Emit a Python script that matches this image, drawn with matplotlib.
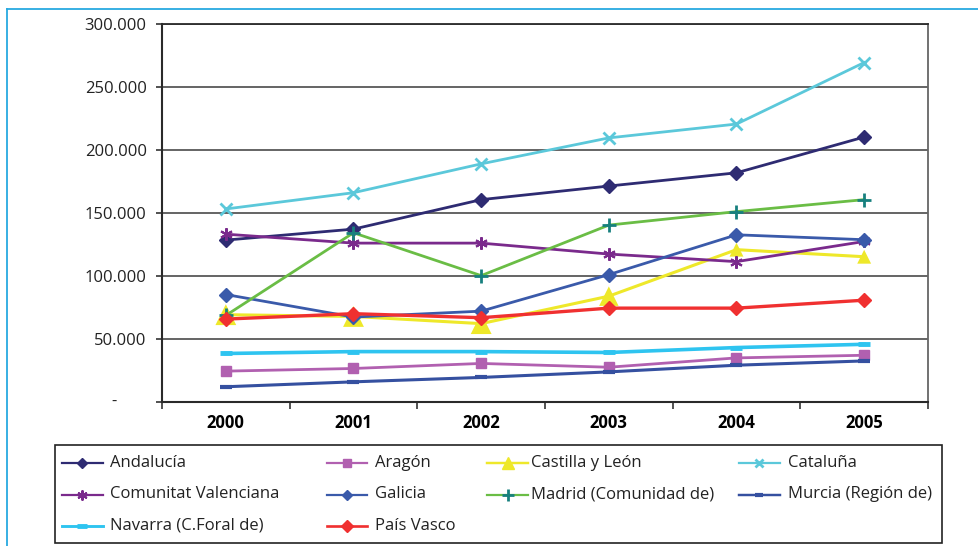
import matplotlib
matplotlib.use("Agg")
import matplotlib.pyplot as plt
from matplotlib.lines import Line2D
from matplotlib.patches import Rectangle
from matplotlib.ticker import FixedLocator, FuncFormatter

plt.rcParams['font.family'] = ['Open Sans', 'DejaVu Sans']

years = ['2000', '2001', '2002', '2003', '2004', '2005']

andalucia = [128500, 137200, 160600, 171400, 181900, 210300]
aragon = [24500, 26600, 30600, 27600, 35000, 37100]
castilla_leon = [69300, 67900, 62200, 84000, 120900, 115300]
cataluna = [153200, 166100, 189000, 209600, 220600, 269400]
valenciana = [133200, 126100, 126100, 117400, 111400, 127400]
galicia = [85300, 67400, 72100, 101100, 132700, 128800]
madrid = [68700, 134300, 100300, 140400, 151100, 160600]
murcia = [12100, 16000, 19500, 23900, 29200, 32600]
navarra = [38500, 40000, 40000, 39300, 43200, 45800]
pais_vasco = [65800, 70100, 66900, 74500, 74500, 80800]

names = ['Andalucía', 'Aragón', 'Castilla y León', 'Cataluña',
         'Comunitat Valenciana', 'Galicia', 'Madrid (Comunidad de)',
         'Murcia (Región de)', 'Navarra (C.Foral de)', 'País Vasco']
series = [andalucia, aragon, castilla_leon, cataluna, valenciana, galicia,
          madrid, murcia, navarra, pais_vasco]

# style: (line color, marker, marker face, marker edge, marker size, mew, lw)
styles = [
    ('#2E2B72', 'D', '#2E2B72', '#2E2B72', 7, 1, 2.0),
    ('#B160B0', 's', '#B160B0', '#B160B0', 7.5, 1, 2.0),
    ('#EEE82A', '^', '#EEE82A', '#EEE82A', 11, 1, 2.2),
    ('#5BC8DA', 'x', '#5BC8DA', '#5BC8DA', 8, 2, 2.0),
    ('#7A2A8C', (6, 2, 0), '#7A2A8C', '#7A2A8C', 9, 1.5, 2.0),
    ('#3A5AAA', 'D', '#3A5AAA', '#3A5AAA', 7, 1, 2.0),
    ('#6ABD45', '+', '#17807E', '#17807E', 10, 2, 2.0),
    ('#3550A0', '_', '#3550A0', '#3550A0', 8, 3, 2.2),
    ('#2EC4F0', '_', '#2EC4F0', '#2EC4F0', 9, 3.5, 2.6),
    ('#F03030', 'D', '#F03030', '#F03030', 7.5, 1, 2.4),
]

W, H = 979, 546
fig = plt.figure(figsize=(W / 100, H / 100), dpi=100)

def fx(px):
    return px / W

def fy(py):
    return 1 - py / H

ax = fig.add_axes([fx(162), fy(402), fx(928) - fx(162), fy(24) - fy(402)])
x = list(range(len(years)))

for i, (name, vals, st) in enumerate(zip(names, series, styles)):
    col, mk, mfc, mec, ms, mew, lw = st
    z = 3 + i * 0.1
    if name == 'Castilla y León':
        ax.plot(x, vals, color=col, lw=lw, zorder=z, solid_joinstyle='round')
        sizes = [15, 15, 15, 14, 10, 10]
        ax.scatter(x, vals, s=[s ** 2 for s in sizes], marker='^', color=col,
                   zorder=z + 0.01, linewidths=0)
    else:
        ax.plot(x, vals, color=col, lw=lw, marker=mk, mfc=mfc, mec=mec,
                ms=ms, mew=mew, zorder=z, solid_joinstyle='round')

ax.set_xlim(-0.5, 5.5)
ax.set_ylim(0, 300000)
yt = list(range(0, 300001, 50000))
ax.yaxis.set_major_locator(FixedLocator(yt))

def yfmt(v, pos):
    if v == 0:
        return ''
    return f"{int(v) // 1000}.{int(v) % 1000:03d}"

ax.yaxis.set_major_formatter(FuncFormatter(yfmt))
ax.grid(axis='y', color='#3A3A3A', lw=1.1, zorder=1)
ax.set_axisbelow(True)

ax.set_xticks(x)
ax.set_xticklabels(years, fontweight='bold', fontsize=12)
ax.set_xticks([i - 0.5 for i in range(len(years) + 1)], minor=True)
ax.tick_params(axis='x', which='major', length=0, pad=9)
ax.tick_params(axis='x', which='minor', length=5, width=1.2, color='#333333')
ax.tick_params(axis='y', length=4, width=1.2, color='#333333', labelsize=12,
               pad=7)
for t in ax.get_yticklabels():
    t.set_color('#222222')

for s in ['left', 'bottom']:
    ax.spines[s].set_color('#2A2A2A')
    ax.spines[s].set_linewidth(1.5)
ax.spines['right'].set_color('#666666')
ax.spines['right'].set_linewidth(1.3)
ax.spines['top'].set_color('#2A2A2A')
ax.spines['top'].set_linewidth(1.3)

fig.text(fx(114), fy(402), '-', ha='center', va='center', fontsize=12,
         color='#222222')

# outer frame (cyan)
fig.add_artist(Line2D([fx(7), 1.0], [fy(9), fy(9)], transform=fig.transFigure,
                      color='#27A9E1', lw=1.3))
fig.add_artist(Line2D([fx(7), fx(7)], [fy(9), 0.0], transform=fig.transFigure,
                      color='#27A9E1', lw=1.3))

# legend box
fig.add_artist(Rectangle((fx(55), fy(543)), fx(942) - fx(55), fy(445) - fy(543),
                         transform=fig.transFigure, fill=False,
                         edgecolor='#222222', lw=1.2))

col_hx = [(62, 103), (327, 367), (487, 528), (739, 780)]
col_tx = [110, 375, 531, 788]
row_y = [463, 494.5, 526]
for i, (name, st) in enumerate(zip(names, styles)):
    r, c = divmod(i, 4)
    col, mk, mfc, mec, ms, mew, lw = st
    h0, h1 = col_hx[c]
    yy = fy(row_y[r])
    fig.add_artist(Line2D([fx(h0), fx(h1)], [yy, yy], transform=fig.transFigure,
                          color=col, lw=lw * 0.8))
    lms = ms * 0.8 if mk != '^' else 9
    fig.add_artist(Line2D([fx((h0 + h1) / 2)], [yy], transform=fig.transFigure,
                          marker=mk, mfc=mfc, mec=mec, ms=lms, mew=mew,
                          color=col, lw=0))
    fig.text(fx(col_tx[c]), yy, name, ha='left', va='center', fontsize=12,
             color='#222222')

fig.savefig('out.png', dpi=100)
